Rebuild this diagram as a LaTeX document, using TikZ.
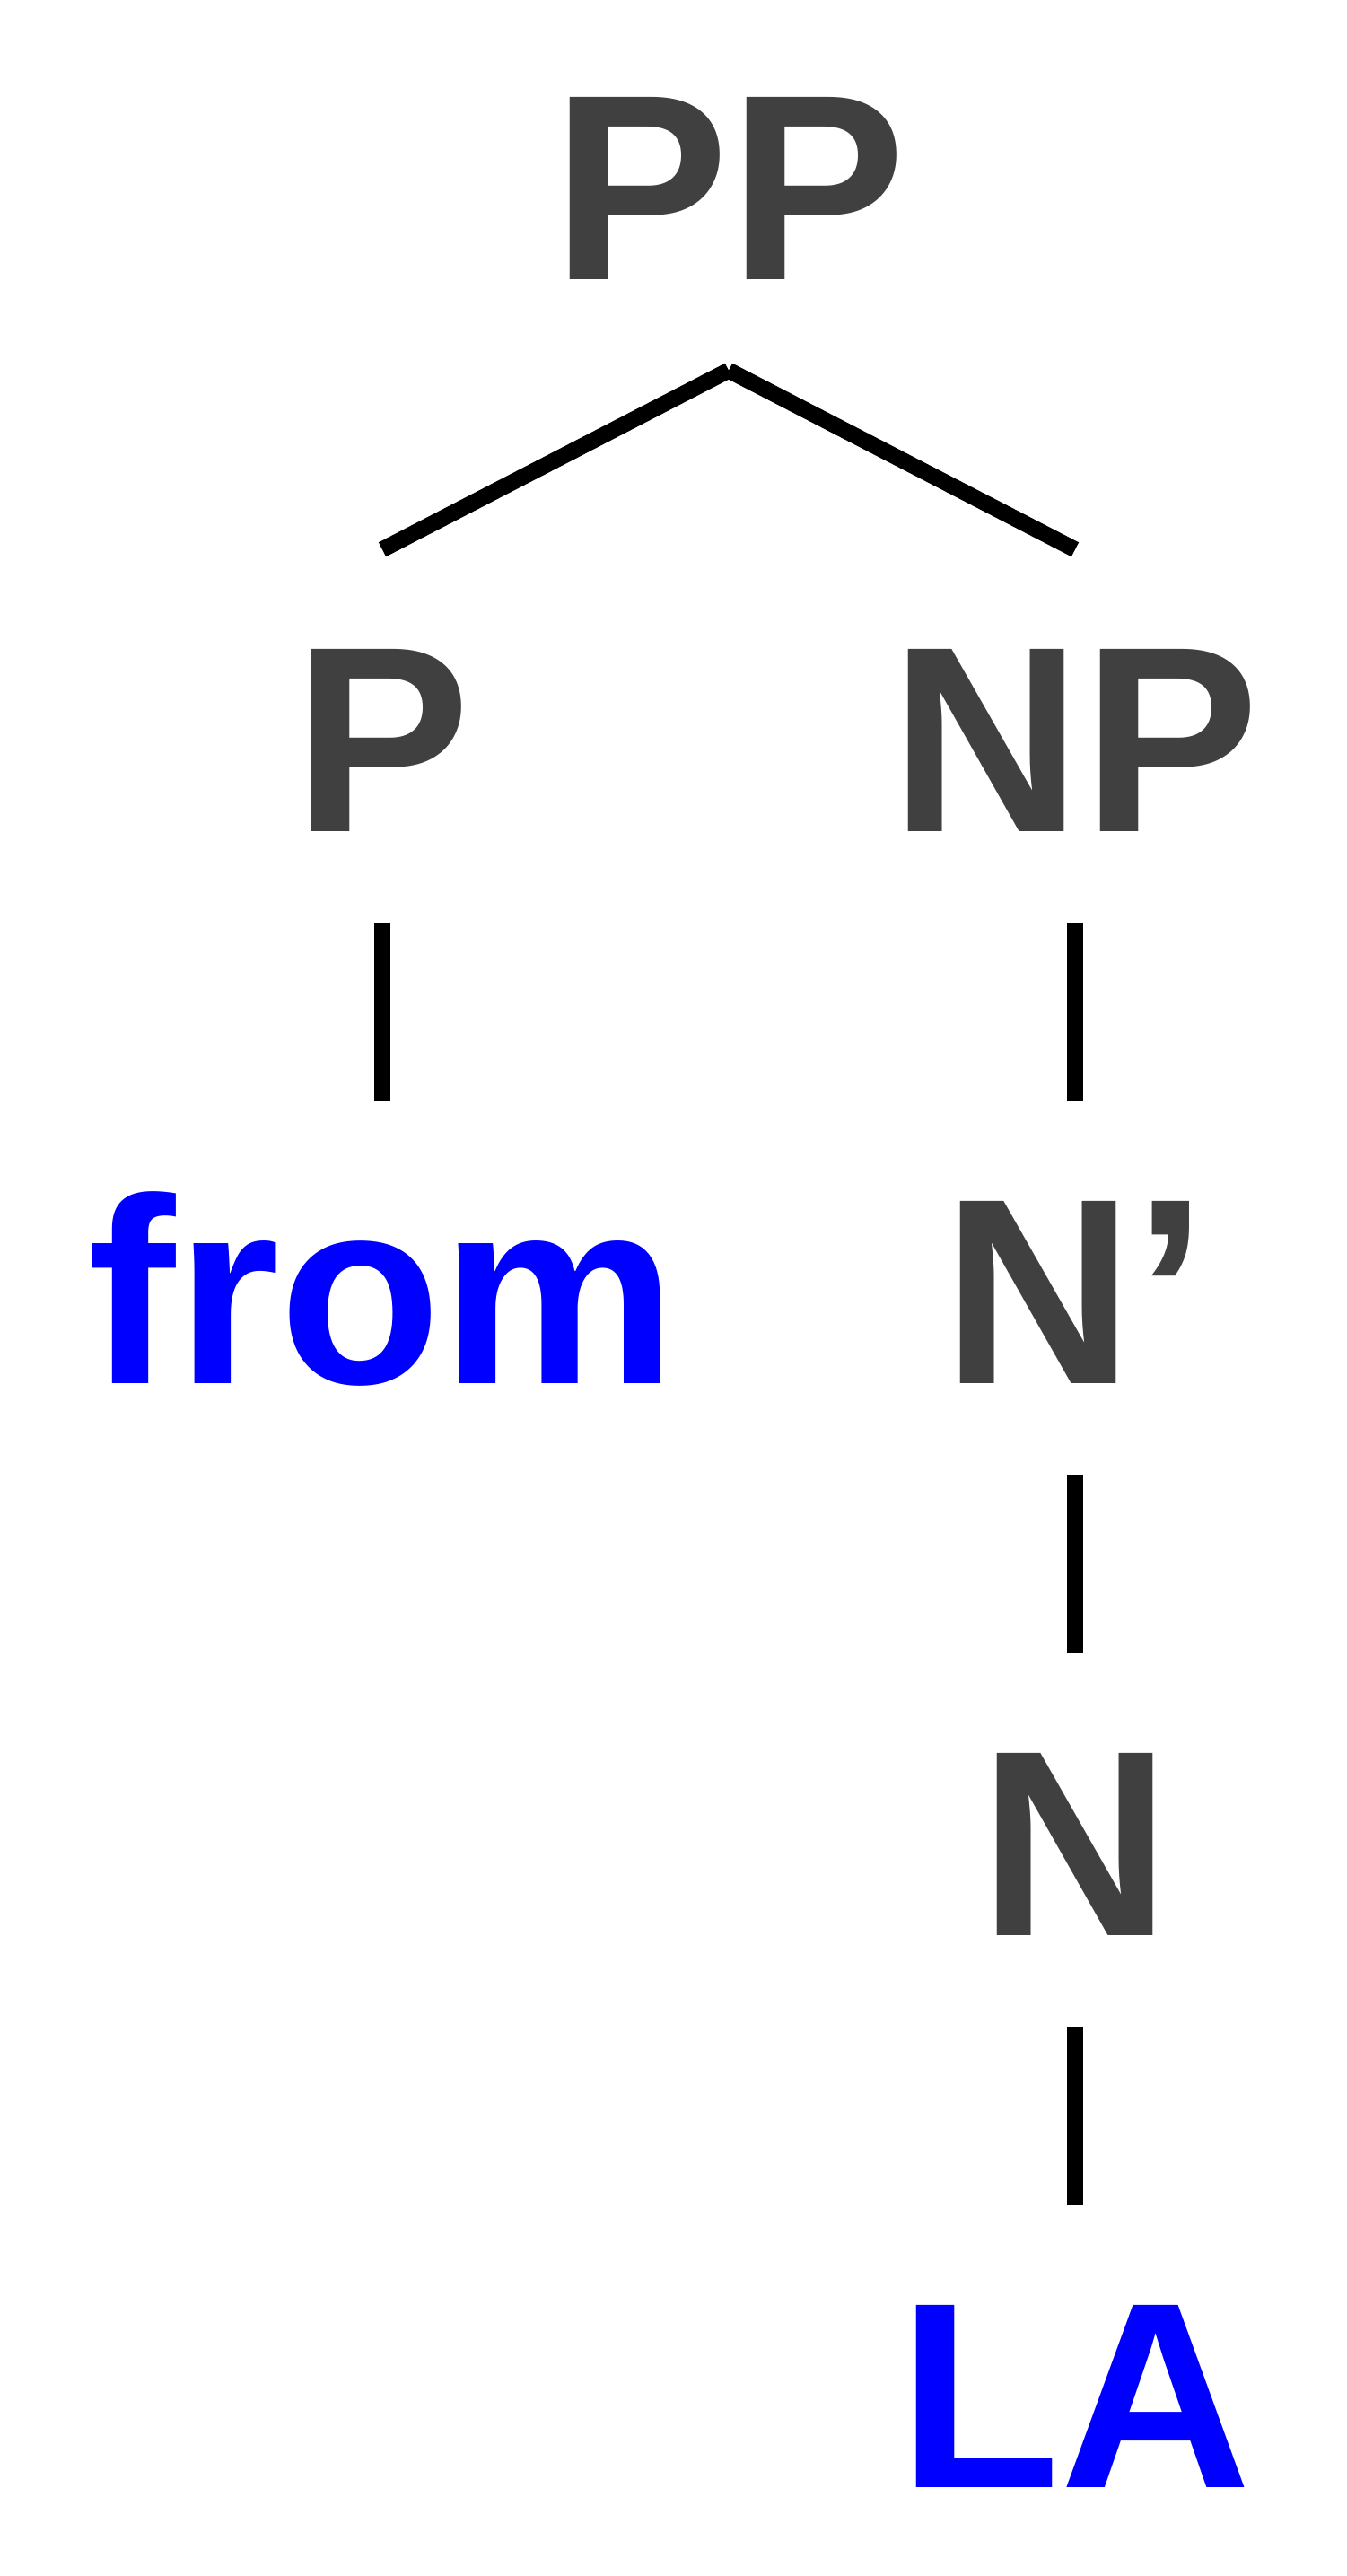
\documentclass[tikz,border=0pt]{standalone}
\usepackage{fontspec}
\newfontfamily\treefont{Liberation Sans Bold}
\usetikzlibrary{positioning}
\definecolor{labelgray}{HTML}{404040}
\definecolor{wordblue}{HTML}{0000FF}
\tikzset{%
  % Specifications for style of nodes:
        base/.style = {font=\fontsize{84}{100}\treefont,
                       text height=2.14cm, text depth=0pt,
                       inner xsep=0pt, inner ysep=1cm},
    category/.style = {base, text=labelgray},
        word/.style = {base, text=wordblue},
      branch/.style = {line width=5.1pt, line cap=butt, black},
}
\begin{document}
\begin{tikzpicture}[node distance=6.15cm]
  \useasboundingbox (0,0) rectangle (15,28.7);

  \node(pp)      [category] at (8.12,26.65)          {PP};
  \node(p)       [category, below of=pp, xshift=-3.86cm] {P};
  \node(np)      [category, below of=pp, xshift=3.86cm]  {NP};
  \node(from)    [word, below of=p]                  {from};
  \node(nbar)    [category, below of=np]             {N’};
  \node(n)       [category, below of=nbar]           {N};
  \node(la)      [word, below of=n]                  {LA};

  % Specification of lines between nodes specified above
  \draw[branch]  (pp.south) -- (p.north);
  \draw[branch]  (pp.south) -- (np.north);
  \draw[branch]  (p) -- (from);
  \draw[branch]  (np) -- (nbar);
  \draw[branch]  (nbar) -- (n);
  \draw[branch]  (n) -- (la);
\end{tikzpicture}
\end{document}
